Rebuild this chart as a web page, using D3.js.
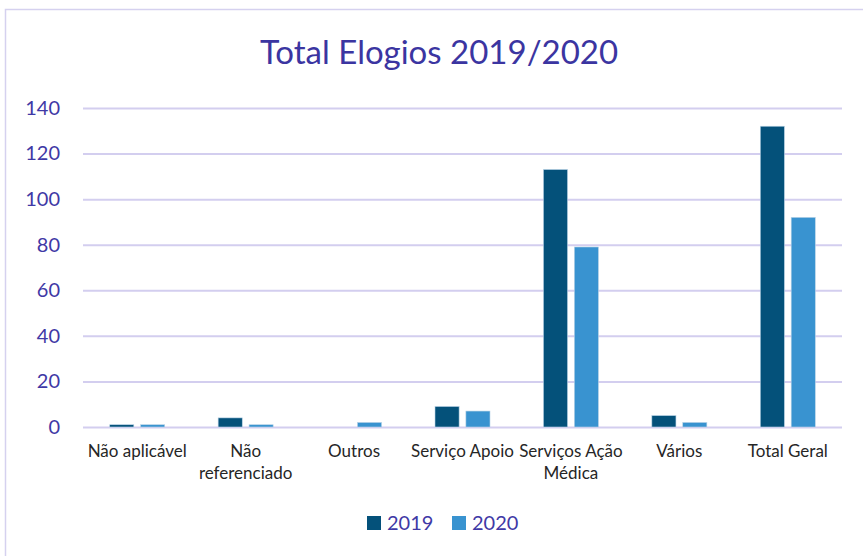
<!DOCTYPE html>
<html>
<head>
<meta charset="utf-8">
<script src="https://cdn.jsdelivr.net/npm/d3@7"></script>
<style>
    body { margin: 0; background: #fff; }
    text { font-family: Lato, "Open Sans", sans-serif; }
</style>
</head>
<body>
<script>
let categories = ["Não aplicável", "Não referenciado", "Outros", "Serviço Apoio", "Serviços Ação Médica", "Vários", "Total Geral"];
let series = ["2019", "2020"];
let values2019 = [1, 4, 0, 9, 113, 5, 132];
let values2020 = [1, 1, 2, 7, 79, 2, 92];
let yTicks = [0, 20, 40, 60, 80, 100, 120, 140];
let colors = ["#04517A", "#3993D0"];

let svgContainer,
    svgWidth = 863,
    svgHeight = 556,
    plot = {
        left: 83,
        right: 842,
        top: 108,
        bottom: 427
    };

function init() {
    drawSvgContainer(svgWidth, svgHeight);
    drawFrame();
    drawTitle("Total Elogios 2019/2020");
    let x = d3.scaleBand().domain(categories).range([plot.left, plot.right]);
    let y = d3.scaleLinear().domain([0, 140]).range([plot.bottom, plot.top]);
    drawGrid(y);
    drawBars(x, y);
    drawCategoryLabels(x);
    drawLegend();
}

function drawSvgContainer(width, height) {
    svgContainer = d3.select("body").append("svg")
    .attr("width", width)
    .attr("height", height);
}

function drawFrame() {
    svgContainer.append("rect")
    .attr("x", 5.5)
    .attr("y", 9.5)
    .attr("width", 870)
    .attr("height", 560)
    .attr("fill", "none")
    .attr("stroke", "#D5D1EF")
    .attr("stroke-width", 1.5);
}

function drawTitle(title) {
    svgContainer.append("text")
    .attr("x", 439)
    .attr("y", 64)
    .attr("text-anchor", "middle")
    .attr("font-size", 33)
    .attr("fill", "#3B35A1")
    .text(title);
}

function drawGrid(y) {
    let yAxis = d3.axisLeft(y).tickValues(yTicks).tickSize(-(plot.right - plot.left)).tickPadding(23);
    let g = svgContainer.append("g")
    .attr("transform", "translate(" + plot.left + ",0)")
    .call(yAxis);
    g.select(".domain").remove();
    g.selectAll(".tick line")
    .attr("stroke", "#D3CEEF")
    .attr("stroke-width", 2);
    g.selectAll(".tick text")
    .attr("font-size", 20)
    .attr("fill", "#3F39A6")
    .attr("font-family", "Lato, sans-serif");
}

function drawBars(x, y) {
    let inner = d3.scaleBand().domain(series).range([0, 55]).paddingInner(0.22);
    let offset = (x.bandwidth() - 55) / 2;
    let data = [values2019, values2020];
    series.forEach((s, i) => {
        svgContainer.append("g")
        .selectAll("rect")
        .data(categories)
        .join("rect")
        .attr("x", c => x(c) + offset + inner(s))
        .attr("y", (c, j) => y(data[i][j]))
        .attr("width", inner.bandwidth())
        .attr("height", (c, j) => y(0) - y(data[i][j]))
        .attr("fill", colors[i])
        .attr("stroke", "#B9D3E6")
        .attr("stroke-width", 0.6);
    });
}

function drawCategoryLabels(x) {
    let maxWidth = x.step();
    categories.forEach(c => {
        let t = svgContainer.append("text")
        .attr("x", x(c) + x.bandwidth() / 2)
        .attr("y", 457)
        .attr("text-anchor", "middle")
        .attr("font-size", 17)
        .attr("fill", "#262626");
        let words = c.split(" "), line = [];
        let tspan = t.append("tspan").attr("x", x(c) + x.bandwidth() / 2).attr("dy", 0);
        words.forEach(w => {
            line.push(w);
            tspan.text(line.join(" "));
            if (tspan.node().getComputedTextLength() > maxWidth && line.length > 1) {
                line.pop();
                tspan.text(line.join(" "));
                line = [w];
                tspan = t.append("tspan").attr("x", x(c) + x.bandwidth() / 2).attr("dy", "1.3em").text(w);
            }
        });
    });
}

function drawLegend() {
    let items = [{ x: 367, label: series[0], color: colors[0] }, { x: 452, label: series[1], color: colors[1] }];
    items.forEach(item => {
        svgContainer.append("rect")
        .attr("x", item.x)
        .attr("y", 516)
        .attr("width", 14)
        .attr("height", 14)
        .attr("fill", item.color);
        svgContainer.append("text")
        .attr("x", item.x + 20)
        .attr("y", 530)
        .attr("font-size", 20)
        .attr("fill", "#3F39A6")
        .text(item.label);
    });
}

init();
</script>
</body>
</html>
